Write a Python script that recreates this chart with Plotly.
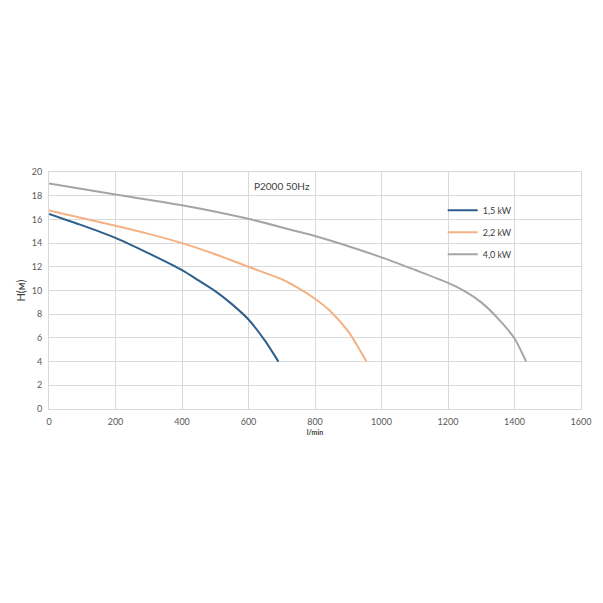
import plotly.graph_objects as go

# Data
flow_15 = [0, 100, 200, 300, 400, 450, 500, 550, 600, 650, 690]
head_15 = [16.47, 15.5, 14.44, 13.13, 11.72, 10.85, 9.95, 8.85, 7.55, 5.75, 4.0]

flow_22 = [0, 200, 300, 400, 500, 600, 700, 750, 800, 850, 900, 925, 955]
head_22 = [16.75, 15.47, 14.78, 14.0, 13.06, 12.0, 10.95, 10.2, 9.3, 8.15, 6.55, 5.45, 4.0]

flow_40 = [0, 200, 400, 600, 750, 800, 1000, 1100, 1200, 1250, 1300, 1350, 1400, 1435]
head_40 = [19.03, 18.1, 17.2, 16.05, 14.95, 14.6, 12.8, 11.75, 10.65, 9.95, 9.0, 7.65, 5.95, 4.0]

series_names = ["1,5 kW", "2,2 kW", "4,0 kW"]
series_colors = ["#2E5F8A", "#F4B183", "#A5A5A5"]

x_ticks = [0, 200, 400, 600, 800, 1000, 1200, 1400, 1600]
y_ticks = [0, 2, 4, 6, 8, 10, 12, 14, 16, 18, 20]

fig = go.Figure()
for i, (xs, ys) in enumerate([(flow_15, head_15), (flow_22, head_22), (flow_40, head_40)]):
    fig.add_trace(go.Scatter(
        x=xs, y=ys, mode="lines", name=series_names[i],
        line=dict(color=series_colors[i], width=2, shape="spline", smoothing=0.7),
        legendgroup="g%d" % i,
    ))

font_family = "Lato, Open Sans, sans-serif"
tick_font = dict(family=font_family, size=9, color="#595959")

fig.update_layout(
    width=595, height=595,
    margin=dict(l=41, r=20, t=164, b=194),
    paper_bgcolor="white", plot_bgcolor="white",
    showlegend=True,
    legend=dict(x=0.74, y=0.9, xanchor="left", yanchor="top",
                bgcolor="rgba(0,0,0,0)", font=dict(family=font_family, size=9, color="#404040"),
                tracegroupgap=3, itemwidth=30),
    xaxis=dict(range=[0, 1600], tickvals=x_ticks, ticktext=[str(v) for v in x_ticks],
               showgrid=True, gridcolor="#D9D9D9", gridwidth=1,
               zeroline=False, showline=True, linecolor="#D9D9D9", mirror=True,
               tickfont=tick_font, ticks="", ticklabelstandoff=4,
               title=dict(text="<b>l/min</b>", font=dict(family=font_family, size=7, color="#404040"),
                          standoff=4)),
    yaxis=dict(range=[0, 20], tickvals=y_ticks, ticktext=[str(v) for v in y_ticks],
               showgrid=True, gridcolor="#D9D9D9", gridwidth=1,
               zeroline=False, showline=True, linecolor="#D9D9D9", mirror=True,
               tickfont=tick_font, ticks="", ticklabelstandoff=4,
               title=dict(text="H(м)", font=dict(family=font_family, size=11, color="#404040"),
                          standoff=3)),
    annotations=[dict(text="P2000 50Hz", x=611, y=18.8, xref="x", yref="y",
                      xanchor="left", yanchor="middle", showarrow=False,
                      font=dict(family=font_family, size=10, color="#404040"))],
)

fig.write_html("out.html")
